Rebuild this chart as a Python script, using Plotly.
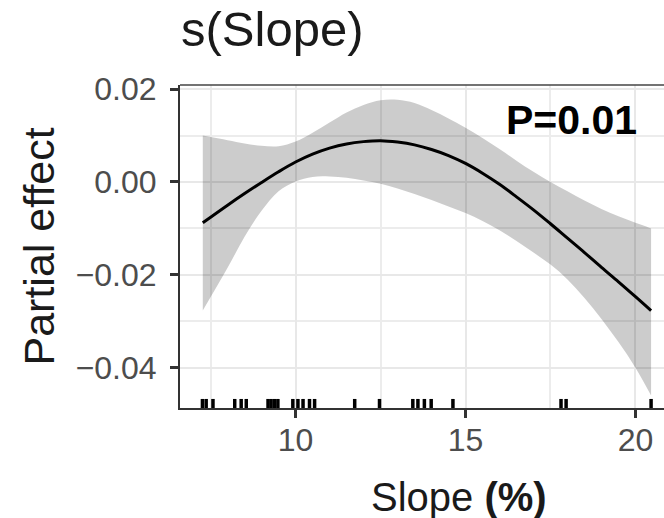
import plotly.graph_objects as go

# Slope grid (%)
slope = [7.27, 8.0, 8.5, 9.0, 9.5, 10.0, 10.5, 11.0, 11.5, 12.0, 12.5, 13.0, 13.5, 14.0,
         14.5, 15.0, 15.5, 16.0, 16.5, 17.0, 17.5, 18.0, 18.5, 19.0, 19.5, 20.0, 20.46]

# Fitted smooth s(Slope)
fit = [-0.0088, -0.0050, -0.0025, -0.0001, 0.0022, 0.0043, 0.0060, 0.0073, 0.0082, 0.0087,
       0.0089, 0.0086, 0.0080, 0.0070, 0.0057, 0.0040, 0.0019, -0.0005, -0.0032, -0.0060,
       -0.0090, -0.0121, -0.0152, -0.0184, -0.0215, -0.0247, -0.0277]

# Confidence band
upper = [0.0100, 0.0090, 0.0083, 0.0078, 0.0077, 0.0087, 0.0106, 0.0128, 0.0150, 0.0166,
         0.0176, 0.0177, 0.0170, 0.0155, 0.0137, 0.0117, 0.0095, 0.0071, 0.0046, 0.0022,
         0.0000, -0.0020, -0.0040, -0.0058, -0.0074, -0.0088, -0.0100]
lower = [-0.0277, -0.0185, -0.0118, -0.0062, -0.0020, 0.0001, 0.0011, 0.0012, 0.0009, 0.0003,
         -0.0004, -0.0014, -0.0026, -0.0039, -0.0053, -0.0067, -0.0084, -0.0104, -0.0127, -0.0152,
         -0.0178, -0.0210, -0.0250, -0.0295, -0.0345, -0.0400, -0.0460]

# Rug (observed slope values)
rug_x = [7.26, 7.37, 7.57, 8.21, 8.40, 8.55, 9.19, 9.28, 9.38, 9.48, 9.92, 10.07, 10.22,
         10.41, 10.56, 11.74, 12.47, 13.45, 13.60, 13.79, 13.99, 14.63, 17.81, 17.96, 20.46]

x_ticks = [10, 15, 20]
y_ticks = [0.02, 0.00, -0.02, -0.04]
y_tick_labels = ["0.02", "0.00", "\u22120.02", "\u22120.04"]

FONT = "Liberation Sans, Arial, sans-serif"

fig = go.Figure()

fig.add_trace(go.Scatter(x=slope, y=upper, mode="lines",
                         line=dict(width=0, color="rgba(0,0,0,0)", shape="spline", smoothing=1.0),
                         hoverinfo="skip", showlegend=False))
fig.add_trace(go.Scatter(x=slope, y=lower, mode="lines", fill="tonexty",
                         line=dict(width=0, color="rgba(0,0,0,0)", shape="spline", smoothing=1.0),
                         fillcolor="rgba(0,0,0,0.2)", hoverinfo="skip", showlegend=False))
fig.add_trace(go.Scatter(x=slope, y=fit, mode="lines",
                         line=dict(color="black", width=3, shape="spline", smoothing=1.0),
                         showlegend=False))

for rx in rug_x:
    fig.add_shape(type="line", xref="x", yref="y domain", x0=rx, x1=rx, y0=0, y1=0.028,
                  line=dict(color="black", width=3.5))

# top border of panel
fig.add_shape(type="line", xref="paper", yref="paper", x0=0, x1=1, y0=1, y1=1,
              line=dict(color="#444444", width=1.5))

fig.add_annotation(text="<b>P=0.01</b>", xref="x", yref="y", x=18.12, y=0.0133,
                   showarrow=False, font=dict(family=FONT, size=41, color="black"))

fig.add_annotation(text="Slope <b>(%)</b>", xref="paper", yref="paper",
                   x=0.576, y=-0.275, xanchor="center", yanchor="middle",
                   showarrow=False, font=dict(family=FONT, size=40, color="#1a1a1a"))

fig.add_annotation(text="Partial effect", xref="paper", yref="paper",
                   x=(38 - 180) / 484, y=0.5, textangle=-90, xanchor="center", yanchor="middle",
                   showarrow=False, font=dict(family=FONT, size=43, color="#1a1a1a"))

fig.update_layout(
    width=664, height=518,
    margin=dict(l=180, r=0, t=85, b=110),
    paper_bgcolor="white", plot_bgcolor="white",
    title=dict(text="s(Slope)", x=181 / 664, xanchor="left", y=1 - 29 / 518, yanchor="middle",
               font=dict(family=FONT, size=49, color="#1a1a1a")),
    xaxis=dict(range=[6.6, 20.84], tickvals=x_ticks, ticktext=[str(v) for v in x_ticks],
               showgrid=True, gridcolor="#e8e8e8", gridwidth=2,
               minor=dict(tickvals=[7.5, 12.5, 17.5], showgrid=True, gridcolor="#ececec", gridwidth=1.6),
               showline=True, linecolor="#333333", linewidth=2,
               ticks="outside", ticklen=8, tickwidth=3, tickcolor="#333333",
               tickfont=dict(family=FONT, size=32, color="#4d4d4d"), ticklabelstandoff=-5,
               zeroline=False, fixedrange=True),
    yaxis=dict(range=[-0.0487, 0.0209], tickvals=y_ticks, ticktext=y_tick_labels,
               showgrid=True, gridcolor="#e8e8e8", gridwidth=2,
               minor=dict(tickvals=[0.01, -0.01, -0.03], showgrid=True, gridcolor="#ececec", gridwidth=1.6),
               showline=True, linecolor="#333333", linewidth=2,
               ticks="outside", ticklen=8, tickwidth=3, tickcolor="#333333",
               tickfont=dict(family=FONT, size=32, color="#4d4d4d"), ticklabelstandoff=7,
               zeroline=False, fixedrange=True),
)

fig.write_html("out.html")
